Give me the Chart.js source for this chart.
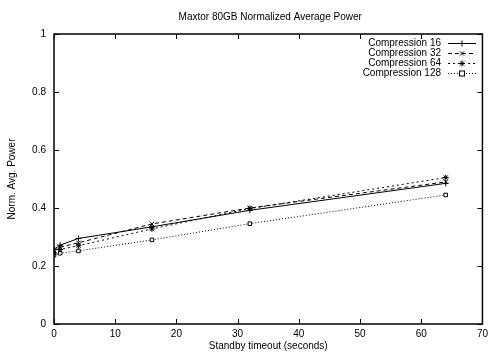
<!DOCTYPE html>
<html lang="en">
<head>
  <meta charset="UTF-8">
  <title>Maxtor 80GB Normalized Average Power</title>
  <script src="https://cdn.jsdelivr.net/npm/chart.js"></script>
  <style>
    html, body { margin: 0; padding: 0; background: #fff; }
    #wrap { width: 492px; height: 352px; }
  </style>
</head>
<body>
  <div id="wrap"><canvas id="powerChart" width="492" height="352"></canvas></div>
  <script>
    // standby timeouts (seconds)
    const timeouts = [0, 1, 4, 16, 32, 64];
    const comp16  = [0.258, 0.272, 0.295, 0.335, 0.392, 0.485];
    const comp32  = [0.252, 0.265, 0.280, 0.345, 0.400, 0.490];
    const comp64  = [0.245, 0.257, 0.270, 0.328, 0.398, 0.505];
    const comp128 = [0.237, 0.244, 0.252, 0.290, 0.346, 0.445];
    const seriesNames = ["Compression 16", "Compression 32", "Compression 64", "Compression 128"];
    const xTicks = [0, 10, 20, 30, 40, 50, 60, 70];
    const yTicks = [0, 0.2, 0.4, 0.6, 0.8, 1];

    const FONT = "'Liberation Sans', Arial, sans-serif";

    function series(label, values, dash, style) {
      return {
        label,
        data: timeouts.map((t, i) => ({ x: t, y: values[i] })),
        borderColor: '#000',
        borderWidth: 1,
        borderDash: dash,
        pointStyle: style,
        pointRadius: style === 'rect' ? 2.5 : 3,
        pointBorderColor: '#000',
        pointBackgroundColor: style === 'rect' ? '#fff' : '#000',
        pointBorderWidth: 1,
        fill: false,
        tension: 0
      };
    }

    // gnuplot-like frame, inward ticks, title and legend
    const frame = {
      id: 'frame',
      afterDatasetsDraw(chart) {
        const { ctx, chartArea: a, scales } = chart;
        ctx.save();
        ctx.strokeStyle = '#000';
        ctx.lineWidth = 1;
        ctx.beginPath();
        xTicks.forEach(v => {
          const px = Math.round(scales.x.getPixelForValue(v)) + 0.5;
          ctx.moveTo(px, a.bottom); ctx.lineTo(px, a.bottom - 5);
          ctx.moveTo(px, a.top); ctx.lineTo(px, a.top + 5);
        });
        yTicks.forEach(v => {
          const py = Math.round(scales.y.getPixelForValue(v)) + 0.5;
          ctx.moveTo(a.left, py); ctx.lineTo(a.left + 5, py);
          ctx.moveTo(a.right, py); ctx.lineTo(a.right - 5, py);
        });
        ctx.stroke();
        ctx.lineWidth = 1.5;
        ctx.strokeRect(a.left, a.top, a.right - a.left, a.bottom - a.top);

        ctx.fillStyle = '#000';
        ctx.font = '10px ' + FONT;
        ctx.textAlign = 'center';
        ctx.textBaseline = 'middle';
        ctx.fillText('Maxtor 80GB Normalized Average Power', (a.left + a.right) / 2 + 2, 17);

        // legend
        ctx.textAlign = 'right';
        chart.data.datasets.forEach((ds, i) => {
          const y = 43 + i * 10;
          ctx.fillStyle = '#000';
          ctx.fillText(seriesNames[i], 441, y);
          ctx.lineWidth = 1;
          ctx.setLineDash(ds.borderDash);
          ctx.beginPath();
          ctx.moveTo(448, y + 0.5); ctx.lineTo(476, y + 0.5);
          ctx.stroke();
          ctx.setLineDash([]);
          if (ds.pointStyle === 'rect') {
            ctx.fillStyle = '#fff';
            ctx.fillRect(459.5, y - 2, 5, 5);
            ctx.strokeRect(459.5, y - 2, 5, 5);
          } else {
            Chart.helpers.drawPoint(ctx, {
              pointStyle: ds.pointStyle,
              radius: ds.pointRadius,
              borderWidth: 1
            }, 462, y + 0.5);
            ctx.fill();
          }
        });
        ctx.restore();
      }
    };

    new Chart(document.getElementById('powerChart'), {
      type: 'line',
      data: {
        datasets: [
          series(seriesNames[0], comp16, [], 'cross'),
          series(seriesNames[1], comp32, [4, 3], 'crossRot'),
          series(seriesNames[2], comp64, [2, 3], 'star'),
          series(seriesNames[3], comp128, [1, 2], 'rect')
        ]
      },
      options: {
        responsive: false,
        animation: false,
        layout: { padding: { top: 34, right: 6, left: 0, bottom: 0 } },
        plugins: {
          legend: { display: false },
          title: { display: false },
          tooltip: { enabled: false }
        },
        scales: {
          x: {
            type: 'linear',
            min: 0, max: 70,
            afterBuildTicks: s => { s.ticks = xTicks.map(v => ({ value: v })); },
            afterFit: s => { s.height = 28; },
            grid: { display: false, drawTicks: false },
            border: { display: false },
            ticks: { color: '#000', padding: 4, font: { family: FONT, size: 10 } },
            title: {
              display: true, text: 'Standby timeout (seconds)', color: '#000',
              padding: { top: 0, bottom: 0 }, font: { family: FONT, size: 10 }
            }
          },
          y: {
            min: 0, max: 1,
            afterBuildTicks: s => { s.ticks = yTicks.map(v => ({ value: v })); },
            afterFit: s => { s.width = 54; },
            grid: { display: false, drawTicks: false },
            border: { display: false },
            ticks: {
              color: '#000', padding: 8, font: { family: FONT, size: 10 },
              callback: v => String(+v.toFixed(1))
            },
            title: {
              display: true, text: 'Norm. Avg. Power', color: '#000',
              padding: { top: 6, bottom: 0 }, font: { family: FONT, size: 10 }
            }
          }
        }
      },
      plugins: [frame]
    });
  </script>
</body>
</html>
